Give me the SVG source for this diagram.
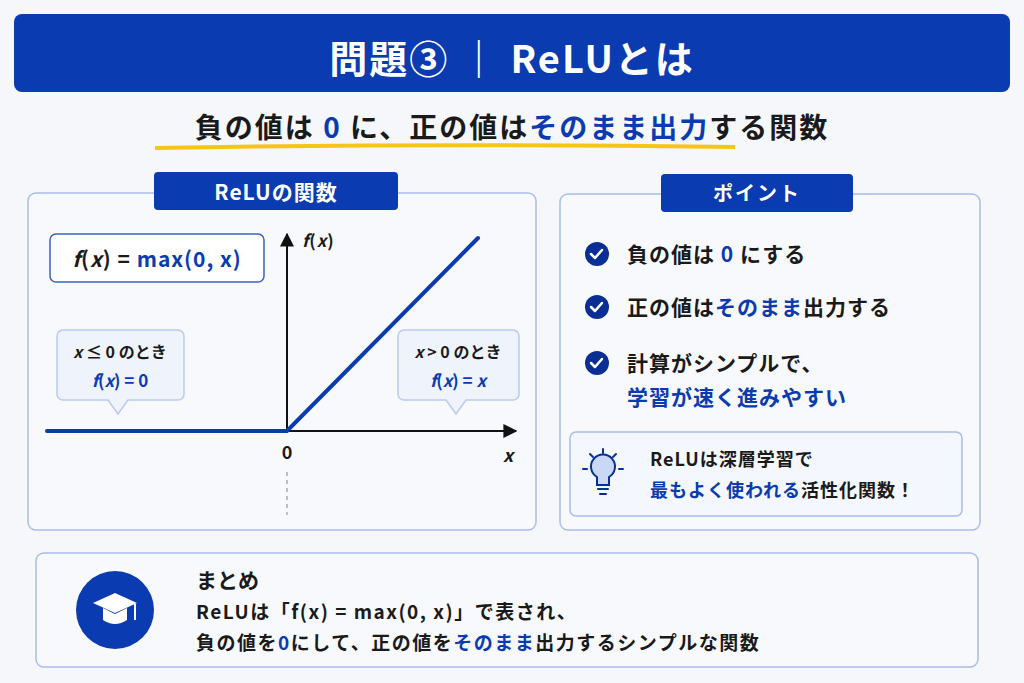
<svg xmlns="http://www.w3.org/2000/svg" width="1024" height="683" viewBox="0 0 1024 683">
<style>
text{font-family:"Noto Sans CJK JP","Noto Sans",sans-serif;font-weight:700;fill:#1a1a1a}
.b{fill:#0a3bb0}
.w{fill:#fff}
.panel{fill:#f7f9fd;stroke:#a9bde8;stroke-width:1.5}
.tab{fill:#0a3bb0}
.ax{stroke:#111;stroke-width:2;fill:none}
.callout{fill:#eef3fc;stroke:#b9cbed;stroke-width:1.5}
</style>
<defs>
<marker id="ar" viewBox="0 0 10 10" refX="9" refY="5" markerWidth="7" markerHeight="7" orient="auto"><path d="M0,0L10,5L0,10z" fill="#111"/></marker>
</defs>
<rect width="1024" height="683" fill="#f5f7fb"/>
<g id="title"><rect x="14" y="14" width="996" height="78" rx="8" fill="#0a3bb0"/>
<text x="512" y="73" text-anchor="middle" font-size="38" letter-spacing="2" class="w">問題③ ｜ ReLUとは</text></g>
<g id="subtitle"><path d="M155,148 Q450,143 735,147" stroke="#f5c518" stroke-width="4" fill="none"/>
<text x="512" y="138" text-anchor="middle" font-size="28" letter-spacing="2">負の値は <tspan class="b">0</tspan> に、正の値は<tspan class="b">そのまま出力</tspan>する関数</text></g>
<g id="graph-panel">
<rect class="panel" x="28" y="193" width="508" height="337" rx="8"/>
<rect class="tab" x="154" y="172" width="244" height="38" rx="4"/>
<text x="276" y="200" text-anchor="middle" font-size="21" letter-spacing="1" class="w">ReLUの関数</text>
<rect x="50" y="234" width="214" height="48" rx="6" fill="#fff" stroke="#3b63c4" stroke-width="1.5"/>
<text x="157" y="267" text-anchor="middle" font-size="21" font-weight="500" letter-spacing="1"><tspan font-style="italic">f</tspan>(<tspan font-style="italic">x</tspan>) = <tspan class="b">max(0, x)</tspan></text>
<line class="ax" x1="287" y1="431" x2="516" y2="431" marker-end="url(#ar)"/>
<line class="ax" x1="287" y1="431" x2="287" y2="234" marker-end="url(#ar)"/>
<line x1="287" y1="472" x2="287" y2="515" stroke="#999" stroke-width="1.2" stroke-dasharray="4,4"/>
<polyline points="47,431 287,431 478,238" fill="none" stroke="#0a3bb0" stroke-width="4" stroke-linecap="round"/>
<text x="302" y="247" font-size="17" font-weight="500" font-style="italic" letter-spacing="1">f<tspan font-style="normal">(</tspan>x<tspan font-style="normal">)</tspan></text>
<text x="287" y="459" text-anchor="middle" font-size="18" font-weight="500">0</text>
<text x="508" y="462" text-anchor="middle" font-size="18" font-weight="500" font-style="italic">x</text>
<path class="callout" d="M63,330 H178 a6,6 0 0 1 6,6 V394 a6,6 0 0 1 -6,6 H128 L118,414 L108,400 H63 a6,6 0 0 1 -6,-6 V336 a6,6 0 0 1 6,-6z"/>
<text x="120" y="358" text-anchor="middle" font-size="16" font-weight="500"><tspan font-style="italic">x</tspan> ≤ 0 のとき</text>
<text x="120" y="387" text-anchor="middle" font-size="17" font-weight="500" class="b"><tspan font-style="italic">f</tspan>(<tspan font-style="italic">x</tspan>) = 0</text>
<path class="callout" d="M404,330 H513 a6,6 0 0 1 6,6 V394 a6,6 0 0 1 -6,6 H466 L456,414 L446,400 H404 a6,6 0 0 1 -6,-6 V336 a6,6 0 0 1 6,-6z"/>
<text x="458" y="358" text-anchor="middle" font-size="16" font-weight="500"><tspan font-style="italic">x</tspan> &gt; 0 のとき</text>
<text x="458" y="387" text-anchor="middle" font-size="17" font-weight="500" class="b"><tspan font-style="italic">f</tspan>(<tspan font-style="italic">x</tspan>) = <tspan font-style="italic">x</tspan></text>
</g>
<g id="point-panel">
<rect class="panel" x="560" y="194" width="420" height="336" rx="8" fill="#eef2fa"/>
<rect class="tab" x="661" y="174" width="192" height="38" rx="4"/>
<text x="757" y="201" text-anchor="middle" font-size="20" letter-spacing="2" class="w">ポイント</text>
<g fill="#0a2f94">
<circle cx="597" cy="254" r="12"/><circle cx="597" cy="307" r="12"/><circle cx="597" cy="363" r="12"/></g>
<g stroke="#fff" stroke-width="2.5" fill="none" stroke-linecap="round" stroke-linejoin="round">
<path d="M591,254 l4,4 l7,-8"/><path d="M591,307 l4,4 l7,-8"/><path d="M591,363 l4,4 l7,-8"/></g>
<text x="627" y="262" font-size="21" letter-spacing="1">負の値は<tspan class="b"> 0 </tspan>にする</text>
<text x="627" y="315" font-size="21" letter-spacing="1">正の値は<tspan class="b">そのまま</tspan>出力する</text>
<text x="627" y="371" font-size="21" letter-spacing="1">計算がシンプルで、</text>
<text x="627" y="405" font-size="21" letter-spacing="1" class="b">学習が速く進みやすい</text>
<rect x="570" y="432" width="392" height="84" rx="6" fill="#f4f7fd" stroke="#a9bde8" stroke-width="1.5"/>
<g stroke="#0a2f94" stroke-width="2" fill="none" stroke-linecap="round">
<path d="M597,477 a12,12 0 1 1 12,0 v8 h-12z" fill="#c9d8f5"/>
<line x1="598" y1="489" x2="608" y2="489"/><line x1="600" y1="494" x2="606" y2="494"/>
<line x1="603" y1="449" x2="603" y2="453"/><line x1="590" y1="454" x2="593" y2="457"/><line x1="616" y1="454" x2="613" y2="457"/>
<line x1="583" y1="469" x2="587" y2="469"/><line x1="619" y1="469" x2="623" y2="469"/></g>
<text x="650" y="466" font-size="18" letter-spacing="1">ReLUは深層学習で</text>
<text x="650" y="497" font-size="18" letter-spacing="1"><tspan class="b">最もよく使われる</tspan>活性化関数！</text>
</g>
<g id="summary">
<rect class="panel" x="36" y="553" width="942" height="114" rx="8" fill="#eef2fa"/>
<circle cx="115" cy="610" r="39" fill="#0a3bb0"/>
<path d="M93,603 L115,593 L137,603 L115,613z" fill="#fff"/>
<path d="M103,608 v12 q12,8 24,0 v-12 l-12,6z" fill="#fff"/>
<line x1="135" y1="604" x2="135" y2="620" stroke="#fff" stroke-width="2"/>
<text x="196" y="588" font-size="21">まとめ</text>
<text x="196" y="619" font-size="19" letter-spacing="1.5">ReLUは「f(x) = max(0, x)」で表され、</text>
<text x="196" y="650" font-size="19" letter-spacing="1.5">負の値を<tspan class="b">0</tspan>にして、正の値を<tspan class="b">そのまま</tspan>出力するシンプルな関数</text>
</g>
</svg>
